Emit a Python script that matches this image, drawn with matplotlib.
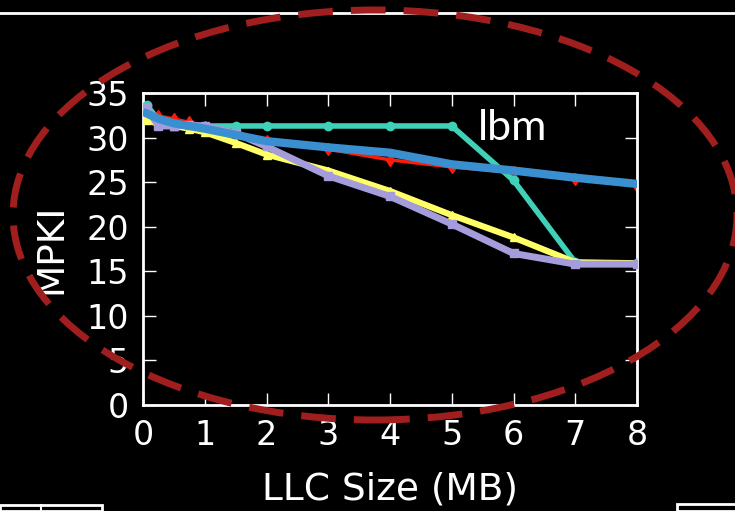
import matplotlib
matplotlib.use("Agg")
import matplotlib.pyplot as plt
from matplotlib.patches import Ellipse, Rectangle
from matplotlib.lines import Line2D

# LLC size (MB) sampled for each configuration
llc_mb = [0.0625, 0.25, 0.5, 0.75, 1, 1.5, 2, 3, 4, 5, 6, 7, 8]

# MPKI for lbm under each policy
mpki_red = [33.0, 32.4, 32.1, 31.7, 31.2, 30.4, 29.6, 28.7, 27.5, 26.7, 26.1, 25.3, 24.6]
mpki_teal = [33.6, 32.0, 31.5, 31.3, 31.3, 31.3, 31.3, 31.3, 31.3, 31.3, 25.2, 16.0, 15.9]
mpki_yellow = [32.0, 31.5, 31.3, 31.0, 30.6, 29.4, 28.1, 26.3, 24.0, 21.3, 18.8, 16.0, 15.9]
mpki_purple = [33.3, 31.3, 31.3, 31.4, 31.3, 30.5, 29.0, 25.7, 23.4, 20.3, 17.0, 15.8, 15.8]
mpki_blue = [32.7, 32.1, 31.6, 31.3, 31.0, 30.3, 29.6, 28.9, 28.3, 27.0, 26.3, 25.5, 24.8]

x_ticks = [0, 1, 2, 3, 4, 5, 6, 7, 8]
y_ticks = [0, 5, 10, 15, 20, 25, 30, 35]

W, H = 735, 511
fig = plt.figure(figsize=(W / 100, H / 100), dpi=100, facecolor="black")
ax = fig.add_axes([143 / W, 1 - 405 / H, 494 / W, 312 / H], facecolor="black")

ax.plot(llc_mb, mpki_red, color="#ff1a0a", lw=2.5, marker="d", ms=6, mec="#ff1a0a", zorder=2)
ax.plot(llc_mb, mpki_teal, color="#40d0b8", lw=4, marker="o", ms=6, mec="#40d0b8", zorder=3)
ax.plot(llc_mb, mpki_yellow, color="#ffff66", lw=4.5, marker="^", ms=6, mec="#ffff66", zorder=4)
ax.plot(llc_mb, mpki_purple, color="#a59cdc", lw=5, marker="s", ms=6, mec="#a59cdc", zorder=5)
ax.plot(llc_mb, mpki_blue, color="#3a8fd0", lw=6, zorder=6)

ax.set_xlim(0, 8)
ax.set_ylim(0, 35)
ax.set_xticks(x_ticks)
ax.set_yticks(y_ticks)
ax.tick_params(direction="in", length=9, width=1, colors="white", labelcolor="white",
               labelsize=24, top=True, right=True, pad=10)
for s in ax.spines.values():
    s.set_color("white")
    s.set_linewidth(2)

ax.set_xlabel("LLC Size (MB)", color="white", fontsize=27, labelpad=14)
ax.set_ylabel("MPKI", color="white", fontsize=27, labelpad=12)

fig.text(478 / W, 1 - 128 / H, "lbm", color="white", fontsize=31, family="Lato",
         ha="left", va="center")

# slide decorations: top rule and panel edges at the bottom
fig.add_artist(Line2D([0, 1], [1 - 13 / H, 1 - 13 / H], color="white", lw=2,
                      transform=fig.transFigure))
fig.add_artist(Rectangle((0, 0), 102 / W, 6 / H, transform=fig.transFigure,
                         fill=False, ec="white", lw=2))
fig.add_artist(Line2D([41 / W, 41 / W], [0, 6 / H], color="white", lw=1.5,
                      transform=fig.transFigure))
fig.add_artist(Rectangle((677 / W, 0), 60 / W, 7 / H, transform=fig.transFigure,
                         fill=False, ec="white", lw=2))

# dashed highlight ellipse around the plot
fig.add_artist(Ellipse((375 / W, 1 - 215 / H), 724 / W, 410 / H, transform=fig.transFigure,
                       fill=False, ec="#a01e1e", lw=5, ls=(0, (5, 2.6)), zorder=10))

fig.savefig("out.png", dpi=100, facecolor="black")
